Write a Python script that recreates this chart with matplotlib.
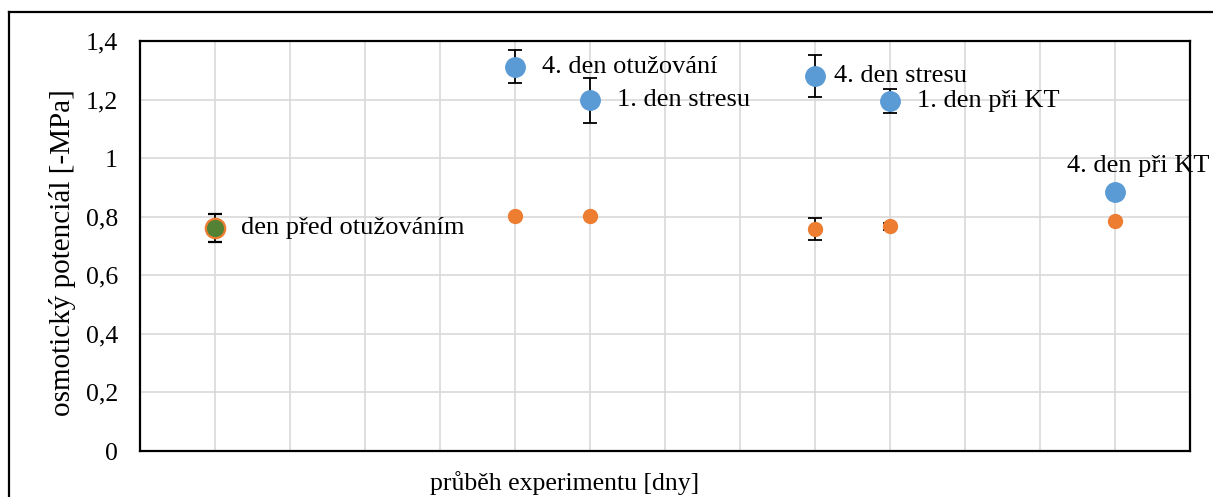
import matplotlib
matplotlib.use("Agg")
import matplotlib.pyplot as plt
from matplotlib.lines import Line2D

plt.rcParams["font.family"] = ["Liberation Serif", "DejaVu Serif"]

# den pokusu (pozice na ose x)
den_modra = [5, 6, 9, 10, 13]
osm_modra = [1.312, 1.198, 1.281, 1.195, 0.883]
err_modra = [0.056, 0.077, 0.072, 0.040, 0.0]
popisky = ["4. den otužování", "1. den stresu", "4. den stresu", "1. den při KT", "4. den při KT"]

den_oranz = [5, 6, 9, 10, 13]
osm_oranz = [0.803, 0.803, 0.757, 0.768, 0.785]
err_oranz = [0.0, 0.0, 0.037, 0.012, 0.0]

den_zel = [1]
osm_zel = [0.761]
err_zel = [0.047]
popis_zel = "den před otužováním"

yticks = [0, 0.2, 0.4, 0.6, 0.8, 1.0, 1.2, 1.4]
ytick_labels = ["0", "0,2", "0,4", "0,6", "0,8", "1", "1,2", "1,4"]

MODRA = "#5B9BD5"
ORANZ = "#ED7D31"
ZELENA = "#548235"
FS = 19

fig = plt.figure(figsize=(12.13, 4.97), dpi=100)
ax = fig.add_axes([140 / 1213, 1 - 451 / 497, 1050 / 1213, 410 / 497])

ax.errorbar(den_oranz, osm_oranz, yerr=err_oranz, fmt="o", color=ORANZ, ms=10,
            ecolor="black", elinewidth=1.3, capsize=5, capthick=1.3, zorder=3)
ax.errorbar(den_modra, osm_modra, yerr=err_modra, fmt="o", color=MODRA, ms=14,
            ecolor="black", elinewidth=1.3, capsize=5, capthick=1.3, zorder=3)
ax.errorbar(den_zel, osm_zel, yerr=err_zel, fmt="o", color=ZELENA, mec=ORANZ, mew=1.6,
            ms=14, ecolor="black", elinewidth=1.3, capsize=5, capthick=1.3, zorder=3)

for x, y, t in zip(den_modra, osm_modra, popisky):
    if t == "4. den při KT":
        ax.annotate(t, (x, y), xytext=(16.5, 11), textcoords="offset points",
                    ha="center", va="bottom", fontsize=FS, annotation_clip=False)
    else:
        dx = 14 if t == "4. den stresu" else 19.5
        ax.annotate(t, (x, y), xytext=(dx, 0), textcoords="offset points",
                    ha="left", va="center", fontsize=FS)
ax.annotate(popis_zel, (den_zel[0], osm_zel[0]), xytext=(19, 0), textcoords="offset points",
            ha="left", va="center", fontsize=FS)

ax.set_xlim(0, 14)
ax.set_ylim(0, 1.4)
ax.set_xticks(range(0, 15))
ax.set_xticklabels([])
ax.set_yticks(yticks)
ax.set_yticklabels(ytick_labels, fontsize=18.5)
ax.tick_params(length=0, pad=16)
ax.grid(True, color="#d9d9d9", lw=1.2)
ax.set_axisbelow(True)
for s in ax.spines.values():
    s.set_linewidth(1.6)
    s.set_color("black")

fig.text(63 / 1213, 1 - 253 / 497, "osmotický potenciál [-MPa]", rotation=90,
         ha="center", va="center", fontsize=21)
fig.text(565 / 1213, 1 - 483 / 497, "průběh experimentu [dny]", ha="center", va="center",
         fontsize=18.5)

# vnější rámeček grafu (spodní a pravá hrana mimo výřez)
fig.add_artist(Line2D([9 / 1213, 9 / 1213], [0, 1 - 12 / 497], color="black", lw=1.6))
fig.add_artist(Line2D([9 / 1213, 1], [1 - 12 / 497, 1 - 12 / 497], color="black", lw=1.6))

fig.savefig("out.png", dpi=100)
